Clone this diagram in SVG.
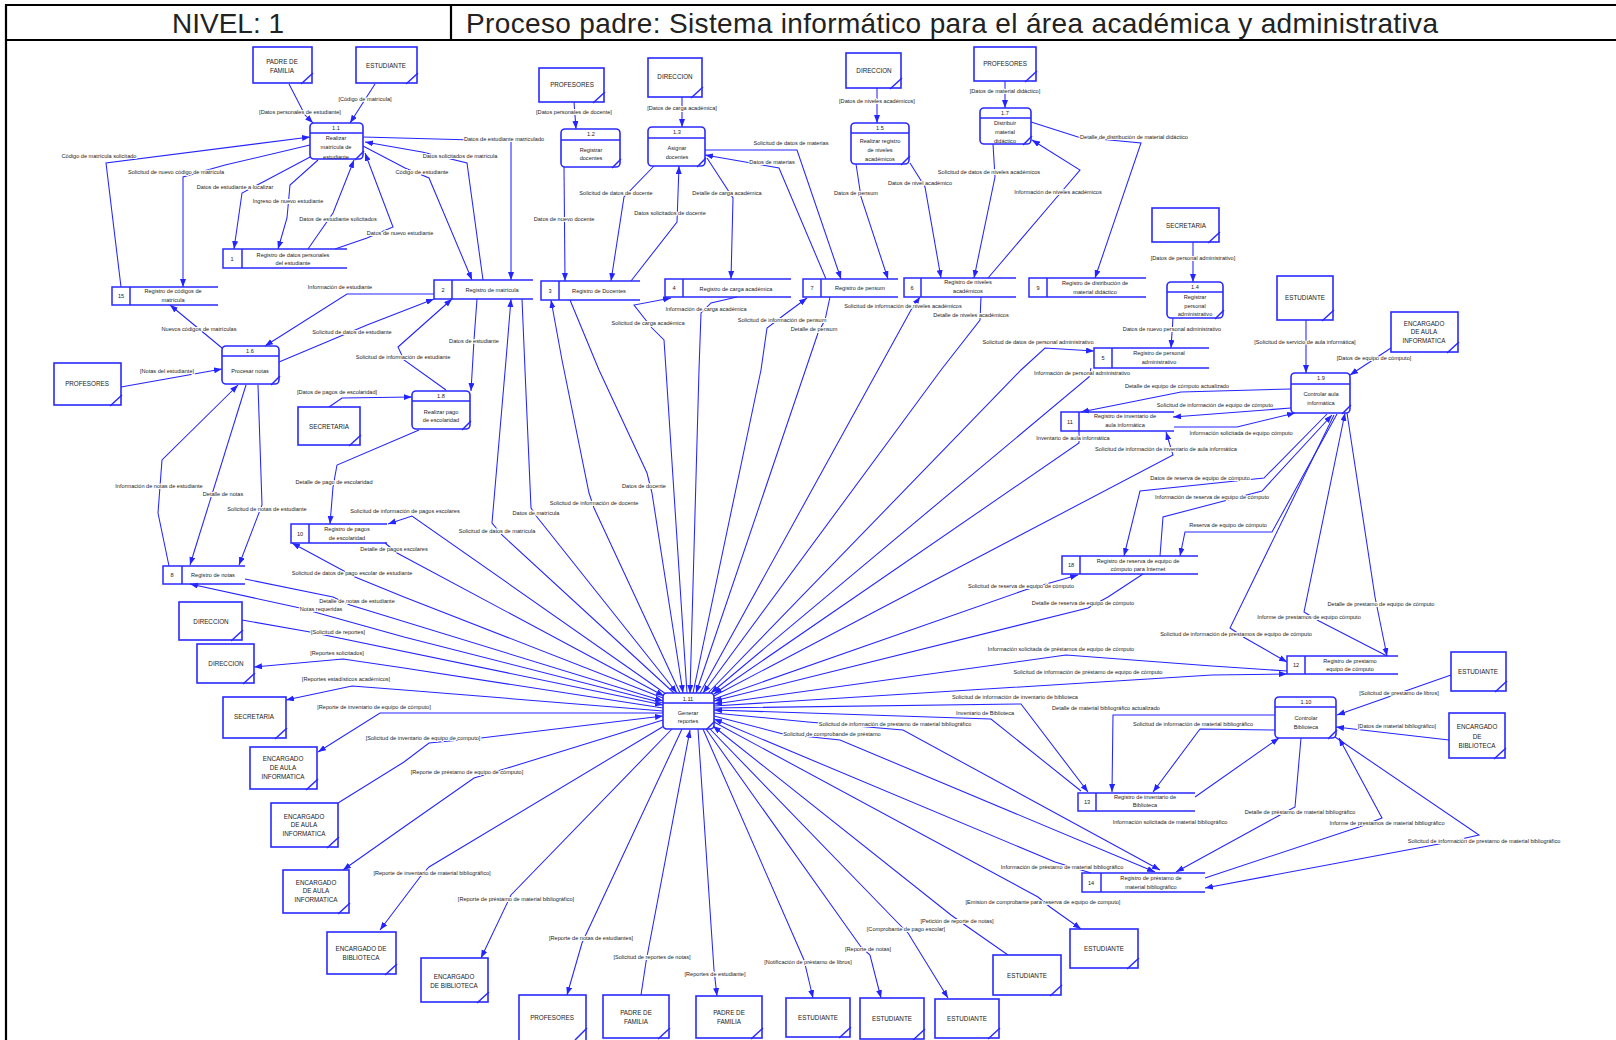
<svg xmlns="http://www.w3.org/2000/svg" width="1616" height="1040" viewBox="0 0 1616 1040">
<defs>
<marker id="a" markerUnits="userSpaceOnUse" markerWidth="9" markerHeight="7" refX="8" refY="3" orient="auto"><path d="M0,0 L8,3 L0,6 z" fill="#2424ff"/></marker>
<style>
text{font-family:"Liberation Sans",Arial,sans-serif;fill:#222}
.t{font-size:5.6px;text-anchor:middle}
.et{font-size:6.3px;text-anchor:middle}
.ent rect,.proc rect{fill:#fff;stroke:#2a2aff;stroke-width:1.6}
.ent path,.proc path,.store path{fill:none;stroke:#2a2aff;stroke-width:1.5}
#lines path{fill:none;stroke:#2424ff;stroke-width:1.05;marker-end:url(#a)}
#labels text{font-size:5.6px;text-anchor:middle;stroke:#fff;stroke-width:2.2;stroke-linejoin:round;paint-order:stroke}
</style>
</defs>
<rect width="1616" height="1040" fill="#fff"/>
<g id="header">
<path d="M6,1042 V5 H1620 M6,40 H1620 M451,5 V40" fill="none" stroke="#000" stroke-width="2.2"/>
<text x="228" y="33" font-size="28" text-anchor="middle" fill="#000">NIVEL: 1</text>
<text x="466" y="33" font-size="28" fill="#000" textLength="972" lengthAdjust="spacing">Proceso padre: Sistema informático para el área académica y administrativa</text>
</g>
<g id="connectors">
<g id="lines">
<path d="M289,84 L305,115 L313,123"/>
<path d="M375,84 L350,123"/>
<path d="M121,287 L106,163 L310,137"/>
<path d="M310,145 L225,165 L183,177 L183,287"/>
<path d="M312,156 L263,182 L242,193 L234,249"/>
<path d="M318,160 L290,185 L287,218 L278,249"/>
<path d="M308,249 L333,213 L354,160"/>
<path d="M335,249 L367,238 L393,227 L365,153"/>
<path d="M363,146 L405,168 L429,178 L472,280"/>
<path d="M483,280 L467,163 L422,152 L365,142"/>
<path d="M363,137 L511,141 L511,280"/>
<path d="M222,348 L193,324 L170,305"/>
<path d="M434,294 L347,294 L265,346"/>
<path d="M279,362 L367,325 L434,299"/>
<path d="M446,390 L404,360 L398,347 L452,299"/>
<path d="M477,299 L474,340 L471,391"/>
<path d="M329,407 L342,398 L412,397"/>
<path d="M419,430 L337,465 L333,487 L330,524"/>
<path d="M666,694 L412,516 L388,524"/>
<path d="M385,543 L397,553 L664,696"/>
<path d="M663,698 L404,597 L355,577 L292,543"/>
<path d="M245,579 L333,597 L350,605 L663,701"/>
<path d="M663,703 L404,637 L300,608 L190,584"/>
<path d="M242,620 L310,632 L663,705"/>
<path d="M663,708 L404,668 L343,659 L254,667"/>
<path d="M663,711 L404,690 L352,686 L286,700"/>
<path d="M663,713 L380,713 L318,752"/>
<path d="M338,803 L404,762 L429,743 L481,738 L663,716"/>
<path d="M663,720 L511,767 L474,778 L404,827 L343,870"/>
<path d="M664,726 L429,867 L420,877 L380,930"/>
<path d="M672,729 L511,895 L481,958"/>
<path d="M682,729 L582,943 L567,995"/>
<path d="M641,995 L646,962 L690,730"/>
<path d="M698,729 L714,970 L717,996"/>
<path d="M703,729 L804,960 L813,998"/>
<path d="M706,729 L861,947 L870,955 L881,998"/>
<path d="M710,729 L898,923 L908,933 L948,998"/>
<path d="M1008,955 L965,925 L951,915 L713,726"/>
<path d="M714,722 L1038,897 L1050,907 L1081,929"/>
<path d="M1091,873 L1055,862 L714,719"/>
<path d="M714,716 L783,734 L840,740 L1155,872"/>
<path d="M714,713 L808,722 L903,730 L1160,870"/>
<path d="M1081,791 L991,719 L714,710"/>
<path d="M714,708 L1021,704 L1088,792"/>
<path d="M1275,715 L1113,715 L1112,792"/>
<path d="M1275,730 L1200,729 L1153,792"/>
<path d="M1195,797 L1279,738"/>
<path d="M1301,738 L1295,807 L1280,815 L1176,872"/>
<path d="M1205,878 L1359,827 L1382,818 L1339,738"/>
<path d="M1335,737 L1479,835 L1439,844 L1205,888"/>
<path d="M1451,675 L1337,715"/>
<path d="M1449,740 L1336,727"/>
<path d="M1306,320 L1306,373"/>
<path d="M1391,348 L1350,375"/>
<path d="M1291,389 L1181,392 L1081,412"/>
<path d="M1291,408 L1173,417"/>
<path d="M1174,427 L1237,427 L1295,413"/>
<path d="M1079,431 L1079,443 L714,694"/>
<path d="M714,696 L1173,455 L1166,432"/>
<path d="M1091,368 L1089,377 L711,693"/>
<path d="M708,693 L1021,370 L1045,348 L1094,351"/>
<path d="M1173,318 L1171,348"/>
<path d="M1193,242 L1193,282"/>
<path d="M1327,414 L1264,478 L1140,491 L1124,556"/>
<path d="M1160,556 L1163,517 L1262,491 L1332,415"/>
<path d="M1337,414 L1272,532 L1185,532 L1180,556"/>
<path d="M714,699 L1025,590 L1078,575"/>
<path d="M1143,574 L1108,597 L1088,608 L714,701"/>
<path d="M1334,415 L1230,628 L1245,638 L1287,662"/>
<path d="M1387,656 L1319,621 L1304,612 L1345,413"/>
<path d="M1347,413 L1375,597 L1387,656"/>
<path d="M1287,671 L1212,666 L1066,655 L714,704"/>
<path d="M714,706 L1212,675 L1287,674"/>
<path d="M574,102 L576,129"/>
<path d="M682,97 L682,127"/>
<path d="M564,167 L565,281"/>
<path d="M654,166 L624,197 L611,281"/>
<path d="M631,281 L677,222 L679,166"/>
<path d="M707,158 L733,198 L731,279"/>
<path d="M705,150 L797,150 L841,279"/>
<path d="M826,279 L779,168 L751,163 L705,155"/>
<path d="M877,88 L877,123"/>
<path d="M856,164 L861,197 L888,279"/>
<path d="M910,163 L925,187 L941,278"/>
<path d="M993,144 L995,177 L974,278"/>
<path d="M988,278 L1057,197 L1080,170 L1032,140"/>
<path d="M1031,122 L1078,137 L1141,143 L1095,278"/>
<path d="M1005,81 L1005,108"/>
<path d="M674,693 L502,535 L492,523 L506,360 L511,299"/>
<path d="M522,299 L525,370 L531,508 L537,517 L677,693"/>
<path d="M680,693 L594,508 L589,493 L562,360 L551,300"/>
<path d="M570,300 L599,370 L647,473 L652,493 L683,693"/>
<path d="M687,693 L666,370 L664,340 L652,328 L634,305 L671,298"/>
<path d="M737,297 L711,303 L701,313 L699,370 L690,693"/>
<path d="M693,693 L761,370 L767,328 L784,315 L807,298"/>
<path d="M830,297 L825,320 L818,333 L696,693"/>
<path d="M700,693 L878,370 L911,310 L920,297"/>
<path d="M981,297 L980,320 L941,370 L703,693"/>
<path d="M121,387 L222,369"/>
<path d="M169,566 L158,513 L162,460 L238,385"/>
<path d="M246,385 L190,565"/>
<path d="M258,385 L262,505 L239,565"/>
</g>
<g id="labels">
<text x="300" y="114">[Datos personales de estudiante]</text>
<text x="365" y="101">[Código de matrícula]</text>
<text x="99" y="158">Código de matrícula solicitado</text>
<text x="176" y="174">Solicitud de nuevo código de matrícula</text>
<text x="235" y="189">Datos de estudiante a localizar</text>
<text x="288" y="203">Ingreso de nuevo estudiante</text>
<text x="338" y="221">Datos de estudiante solicitados</text>
<text x="400" y="235">Datos de nuevo estudiante</text>
<text x="422" y="174">Código de estudiante</text>
<text x="460" y="158">Datos solicitados de matrícula</text>
<text x="504" y="141">Datos de estudiante matriculado</text>
<text x="199" y="331">Nuevos códigos de matrículas</text>
<text x="340" y="289">Información de estudiante</text>
<text x="352" y="334">Solicitud de datos de estudiante</text>
<text x="403" y="359">Solicitud de información de estudiante</text>
<text x="474" y="343">Datos de estudiante</text>
<text x="337" y="394">[Datos de pagos de escolaridad]</text>
<text x="334" y="484">Detalle de pago de escolaridad</text>
<text x="405" y="513">Solicitud de información de pagos escolares</text>
<text x="394" y="551">Detalle de pagos escolares</text>
<text x="352" y="575">Solicitud de datos de pago escolar de estudiante</text>
<text x="357" y="603">Detalle de notas de estudiante</text>
<text x="321" y="611">Notas requeridas</text>
<text x="338" y="634">[Solicitud de reportes]</text>
<text x="337" y="655">[Reportes solicitados]</text>
<text x="346" y="681">[Reportes estadísticos académicos]</text>
<text x="374" y="709">[Reporte de inventario de equipo de cómputo]</text>
<text x="423" y="740">[Solicitud de inventario de equipo de computo]</text>
<text x="467" y="774">[Reporte de préstamo de equipo de cómputo]</text>
<text x="432" y="875">[Reporte de inventario de material bibliográfico]</text>
<text x="516" y="901">[Reporte de préstamo de material bibliográfico]</text>
<text x="591" y="940">[Reporte de notas de estudiantes]</text>
<text x="652" y="959">[Solicitud de reportes de notas]</text>
<text x="715" y="976">[Reportes de estudiante]</text>
<text x="808" y="964">[Notificación de préstamo de libros]</text>
<text x="868" y="951">[Reporte de notas]</text>
<text x="906" y="931">[Comprobante de pago escolar]</text>
<text x="957" y="923">[Petición de reporte de notas]</text>
<text x="1043" y="904">[Emision de comprobante para reserva de equipo de computo]</text>
<text x="1062" y="869">Información de préstamo de material bibliográfico</text>
<text x="832" y="736">Solicitud de comprobande de préstamo</text>
<text x="895" y="726">Solicitud de información de prestamo de material bibliográfico</text>
<text x="985" y="715">Inventario de Biblioteca</text>
<text x="1015" y="699">Solicitud de información de inventario de biblioteca</text>
<text x="1106" y="710">Detalle de material bibliográfico actualizado</text>
<text x="1193" y="726">Solicitud de información de material bibliográfico</text>
<text x="1170" y="824">Información solicitada de material bibliográfico</text>
<text x="1300" y="814">Detalle de préstamo de material bibliográfico</text>
<text x="1387" y="825">Informe de prestamos de material bibliográfico</text>
<text x="1484" y="843">Solicitud de información de prestamo de material bibliográfico</text>
<text x="1399" y="695">[Solicitud de prestamo de libros]</text>
<text x="1397" y="728">[Datos de material bibliográfico]</text>
<text x="1305" y="344">[Solicitud de servicio de aula informática]</text>
<text x="1374" y="360">[Datos de equipo de cómputo]</text>
<text x="1177" y="388">Detalle de equipo de cómputo actualizado</text>
<text x="1215" y="407">Solicitud de información de equipo de cómputo</text>
<text x="1241" y="435">Información solicitada de equipo cómputo</text>
<text x="1073" y="440">Inventario de aula informática</text>
<text x="1166" y="451">Solicitud de información de inventario de aula informática</text>
<text x="1082" y="375">Información de personal administrativo</text>
<text x="1038" y="344">Solicitud de datos de personal administrativo</text>
<text x="1172" y="331">Datos de nuevo personal administrativo</text>
<text x="1193" y="260">[Datos de personal administrativo]</text>
<text x="1200" y="480">Datos de reserva de equipo de cómputo</text>
<text x="1212" y="499">Información de reserva de equipo de cómputo</text>
<text x="1228" y="527">Reserva de equipo de cómputo</text>
<text x="1021" y="588">Solicitud de reserva de equipo de cómputo</text>
<text x="1083" y="605">Detalle de reserva de equipo de cómputo</text>
<text x="1236" y="636">Solicitud de información de prestamos de equipo de cómputo</text>
<text x="1309" y="619">Informe de prestamos de equipo cómputo</text>
<text x="1381" y="606">Detalle de prestamo de equipo de cómputo</text>
<text x="1061" y="651">Información solicitada de préstamos de equipo de cómputo</text>
<text x="1088" y="674">Solicitud de información de préstamo de equipo de cómputo</text>
<text x="574" y="114">[Datos personales de docente]</text>
<text x="682" y="110">[Datos de carga académica]</text>
<text x="564" y="221">Datos de nuevo docente</text>
<text x="616" y="195">Solicitud de datos de docente</text>
<text x="670" y="215">Datos solicitados de docente</text>
<text x="727" y="195">Detalle de carga académica</text>
<text x="791" y="145">Solicitud de datos de materias</text>
<text x="772" y="164">Datos de materias</text>
<text x="877" y="103">[Datos de niveles académicos]</text>
<text x="856" y="195">Datos de pensum</text>
<text x="920" y="185">Datos de nivel académico</text>
<text x="989" y="174">Solicitud de datos de niveles académicos</text>
<text x="1058" y="194">Información de niveles académicos</text>
<text x="1134" y="139">Detalle de distribución de material didáctico</text>
<text x="1005" y="93">[Datos de material didáctico]</text>
<text x="497" y="533">Solicitud de datos de matrícula</text>
<text x="536" y="515">Datos de matrícula</text>
<text x="594" y="505">Solicitud de información de docente</text>
<text x="644" y="488">Datos de docente</text>
<text x="648" y="325">Solicitud de carga académica</text>
<text x="706" y="311">Información de carga académica</text>
<text x="782" y="322">Solicitud de información de pensum</text>
<text x="814" y="331">Detalle de pensum</text>
<text x="903" y="308">Solicitud de información de niveles académicos</text>
<text x="971" y="317">Detalle de niveles académicos</text>
<text x="167" y="373">[Notas del estudiante]</text>
<text x="159" y="488">Información de notas de estudiante</text>
<text x="223" y="496">Detalle de notas</text>
<text x="267" y="511">Solicitud de notas de estudiante</text>
</g>
</g>
<g id="entities">
<g id="e1" class="ent"><rect x="253" y="47" width="59" height="36"/><path d="M313,73 L301,84"/><text class="et" x="282" y="64">PADRE DE</text><text class="et" x="282" y="73">FAMILIA</text></g>
<g id="e2" class="ent"><rect x="356" y="47" width="61" height="36"/><path d="M418,73 L406,84"/><text class="et" x="386" y="68">ESTUDIANTE</text></g>
<g id="e3" class="ent"><rect x="539" y="68" width="65" height="34"/><path d="M605,92 L593,103"/><text class="et" x="572" y="87">PROFESORES</text></g>
<g id="e4" class="ent"><rect x="648" y="58" width="54" height="39"/><path d="M703,87 L691,98"/><text class="et" x="675" y="79">DIRECCION</text></g>
<g id="e5" class="ent"><rect x="846" y="53" width="55" height="35"/><path d="M902,78 L890,89"/><text class="et" x="874" y="73">DIRECCION</text></g>
<g id="e6" class="ent"><rect x="974" y="47" width="62" height="34"/><path d="M1037,71 L1025,82"/><text class="et" x="1005" y="66">PROFESORES</text></g>
<g id="e7" class="ent"><rect x="1152" y="208" width="67" height="34"/><path d="M1220,232 L1208,243"/><text class="et" x="1186" y="228">SECRETARIA</text></g>
<g id="e8" class="ent"><rect x="1277" y="276" width="56" height="44"/><path d="M1334,310 L1322,321"/><text class="et" x="1305" y="300">ESTUDIANTE</text></g>
<g id="e9" class="ent"><rect x="1391" y="312" width="67" height="40"/><path d="M1459,342 L1447,353"/><text class="et" x="1424" y="326">ENCARGADO</text><text class="et" x="1424" y="334">DE AULA</text><text class="et" x="1424" y="343">INFORMATICA</text></g>
<g id="e10" class="ent"><rect x="54" y="363" width="67" height="42"/><path d="M122,395 L110,406"/><text class="et" x="87" y="386">PROFESORES</text></g>
<g id="e11" class="ent"><rect x="298" y="407" width="62" height="38"/><path d="M361,435 L349,446"/><text class="et" x="329" y="429">SECRETARIA</text></g>
<g id="e12" class="ent"><rect x="179" y="602" width="63" height="38"/><path d="M243,630 L231,641"/><text class="et" x="211" y="624">DIRECCION</text></g>
<g id="e13" class="ent"><rect x="197" y="644" width="57" height="39"/><path d="M255,673 L243,684"/><text class="et" x="226" y="666">DIRECCION</text></g>
<g id="e14" class="ent"><rect x="223" y="697" width="63" height="41"/><path d="M287,728 L275,739"/><text class="et" x="254" y="719">SECRETARIA</text></g>
<g id="e15" class="ent"><rect x="250" y="747" width="67" height="42"/><path d="M318,779 L306,790"/><text class="et" x="283" y="761">ENCARGADO</text><text class="et" x="283" y="770">DE AULA</text><text class="et" x="283" y="779">INFORMATICA</text></g>
<g id="e16" class="ent"><rect x="271" y="803" width="67" height="44"/><path d="M339,837 L327,848"/><text class="et" x="304" y="819">ENCARGADO</text><text class="et" x="304" y="827">DE AULA</text><text class="et" x="304" y="836">INFORMATICA</text></g>
<g id="e17" class="ent"><rect x="283" y="870" width="66" height="43"/><path d="M350,903 L338,914"/><text class="et" x="316" y="885">ENCARGADO</text><text class="et" x="316" y="893">DE AULA</text><text class="et" x="316" y="902">INFORMATICA</text></g>
<g id="e18" class="ent"><rect x="327" y="932" width="69" height="42"/><path d="M397,964 L385,975"/><text class="et" x="361" y="951">ENCARGADO DE</text><text class="et" x="361" y="960">BIBLIOTECA</text></g>
<g id="e19" class="ent"><rect x="421" y="958" width="67" height="44"/><path d="M489,992 L477,1003"/><text class="et" x="454" y="979">ENCARGADO</text><text class="et" x="454" y="988">DE BIBLIOTECA</text></g>
<g id="e20" class="ent"><rect x="519" y="995" width="67" height="48"/><path d="M587,1028 L575,1040"/><text class="et" x="552" y="1020">PROFESORES</text></g>
<g id="e21" class="ent"><rect x="603" y="995" width="66" height="43"/><path d="M670,1028 L658,1039"/><text class="et" x="636" y="1015">PADRE DE</text><text class="et" x="636" y="1024">FAMILIA</text></g>
<g id="e22" class="ent"><rect x="696" y="996" width="66" height="42"/><path d="M763,1028 L751,1039"/><text class="et" x="729" y="1015">PADRE DE</text><text class="et" x="729" y="1024">FAMILIA</text></g>
<g id="e23" class="ent"><rect x="786" y="998" width="64" height="39"/><path d="M851,1027 L839,1038"/><text class="et" x="818" y="1020">ESTUDIANTE</text></g>
<g id="e24" class="ent"><rect x="860" y="998" width="64" height="41"/><path d="M925,1029 L913,1040"/><text class="et" x="892" y="1021">ESTUDIANTE</text></g>
<g id="e25" class="ent"><rect x="935" y="999" width="64" height="39"/><path d="M1000,1028 L988,1039"/><text class="et" x="967" y="1021">ESTUDIANTE</text></g>
<g id="e26" class="ent"><rect x="993" y="955" width="68" height="40"/><path d="M1062,985 L1050,996"/><text class="et" x="1027" y="978">ESTUDIANTE</text></g>
<g id="e27" class="ent"><rect x="1070" y="929" width="68" height="39"/><path d="M1139,958 L1127,969"/><text class="et" x="1104" y="951">ESTUDIANTE</text></g>
<g id="e28" class="ent"><rect x="1451" y="652" width="55" height="39"/><path d="M1507,681 L1495,692"/><text class="et" x="1478" y="674">ESTUDIANTE</text></g>
<g id="e29" class="ent"><rect x="1449" y="713" width="56" height="45"/><path d="M1506,748 L1494,759"/><text class="et" x="1477" y="729">ENCARGADO</text><text class="et" x="1477" y="739">DE</text><text class="et" x="1477" y="748">BIBLIOTECA</text></g>
</g>
<g id="processes">
<g id="p1_1" class="proc"><rect x="310" y="123" width="53" height="36" rx="4"/><path d="M310,133 H363 M364,151 L355,160"/><text class="t" x="336" y="130">1.1</text><text class="t" x="336" y="140">Realizar</text><text class="t" x="336" y="149">matrícula de</text><text class="t" x="336" y="159">estudiante</text></g>
<g id="p1_2" class="proc"><rect x="561" y="129" width="59" height="38" rx="4"/><path d="M561,140 H620 M621,159 L612,168"/><text class="t" x="591" y="136">1.2</text><text class="t" x="591" y="152">Registrar</text><text class="t" x="591" y="160">docentes</text></g>
<g id="p1_3" class="proc"><rect x="648" y="127" width="57" height="39" rx="4"/><path d="M648,138 H705 M706,158 L697,167"/><text class="t" x="677" y="134">1.3</text><text class="t" x="677" y="150">Asignar</text><text class="t" x="677" y="159">docentes</text></g>
<g id="p1_5" class="proc"><rect x="851" y="123" width="58" height="41" rx="4"/><path d="M851,133 H909 M910,156 L901,165"/><text class="t" x="880" y="130">1.5</text><text class="t" x="880" y="143">Realizar registro</text><text class="t" x="880" y="152">de niveles</text><text class="t" x="880" y="161">académicos</text></g>
<g id="p1_7" class="proc"><rect x="980" y="108" width="51" height="36" rx="4"/><path d="M980,118 H1031 M1032,136 L1023,145"/><text class="t" x="1005" y="115">1.7</text><text class="t" x="1005" y="125">Distribuir</text><text class="t" x="1005" y="134">material</text><text class="t" x="1005" y="143">didáctico</text></g>
<g id="p1_4" class="proc"><rect x="1167" y="282" width="56" height="36" rx="4"/><path d="M1167,292 H1223 M1224,310 L1215,319"/><text class="t" x="1195" y="289">1.4</text><text class="t" x="1195" y="299">Registrar</text><text class="t" x="1195" y="308">personal</text><text class="t" x="1195" y="316">administrativo</text></g>
<g id="p1_6" class="proc"><rect x="222" y="346" width="57" height="38" rx="4"/><path d="M222,356 H279 M280,376 L271,385"/><text class="t" x="250" y="353">1.6</text><text class="t" x="250" y="373">Procesar notas</text></g>
<g id="p1_8" class="proc"><rect x="412" y="391" width="58" height="38" rx="4"/><path d="M412,401 H470 M471,421 L462,430"/><text class="t" x="441" y="398">1.8</text><text class="t" x="441" y="414">Realizar pago</text><text class="t" x="441" y="422">de escolaridad</text></g>
<g id="p1_9" class="proc"><rect x="1291" y="373" width="59" height="40" rx="4"/><path d="M1291,384 H1350 M1351,405 L1342,414"/><text class="t" x="1321" y="380">1.9</text><text class="t" x="1321" y="396">Controlar aula</text><text class="t" x="1321" y="405">informática</text></g>
<g id="p1_10" class="proc"><rect x="1275" y="697" width="61" height="41" rx="4"/><path d="M1275,707 H1336 M1337,730 L1328,739"/><text class="t" x="1306" y="704">1.10</text><text class="t" x="1306" y="720">Controlar</text><text class="t" x="1306" y="729">Biblioteca</text></g>
<g id="p1_11" class="proc"><rect x="663" y="693" width="51" height="36" rx="4"/><path d="M663,703 H714 M715,721 L706,730"/><text class="t" x="688" y="701">1.11</text><text class="t" x="688" y="715">Generar</text><text class="t" x="688" y="723">reportes</text></g>
</g>
<g id="stores">
<g id="s1" class="store"><path d="M347,249 H223 V268 H347 M242,249 V268"/><text class="t" x="232" y="261">1</text><text class="t" x="293" y="257">Registro de datos personales</text><text class="t" x="293" y="265">del estudiante</text></g>
<g id="s2" class="store"><path d="M533,280 H434 V299 H533 M452,280 V299"/><text class="t" x="443" y="292">2</text><text class="t" x="492" y="292">Registro de matrícula</text></g>
<g id="s3" class="store"><path d="M640,281 H541 V300 H640 M559,281 V300"/><text class="t" x="550" y="293">3</text><text class="t" x="599" y="293">Registro de Docentes</text></g>
<g id="s4" class="store"><path d="M791,279 H665 V297 H791 M683,279 V297"/><text class="t" x="674" y="290">4</text><text class="t" x="736" y="291">Registro de carga académica</text></g>
<g id="s5" class="store"><path d="M1209,348 H1094 V368 H1209 M1112,348 V368"/><text class="t" x="1103" y="360">5</text><text class="t" x="1159" y="355">Registro de personal</text><text class="t" x="1159" y="364">administrativo</text></g>
<g id="s6" class="store"><path d="M1016,278 H904 V297 H1016 M921,278 V297"/><text class="t" x="912" y="290">6</text><text class="t" x="968" y="284">Registro de niveles</text><text class="t" x="968" y="293">académicos</text></g>
<g id="s7" class="store"><path d="M898,279 H803 V297 H898 M821,279 V297"/><text class="t" x="812" y="290">7</text><text class="t" x="860" y="290">Registro de pensum</text></g>
<g id="s8" class="store"><path d="M245,566 H163 V584 H245 M182,566 V584"/><text class="t" x="172" y="577">8</text><text class="t" x="213" y="577">Registro de notas</text></g>
<g id="s9" class="store"><path d="M1146,278 H1029 V297 H1146 M1047,278 V297"/><text class="t" x="1038" y="290">9</text><text class="t" x="1095" y="285">Registro de distribución de</text><text class="t" x="1095" y="294">material didáctico</text></g>
<g id="s10" class="store"><path d="M387,524 H291 V543 H387 M309,524 V543"/><text class="t" x="300" y="536">10</text><text class="t" x="347" y="531">Registro de pagos</text><text class="t" x="347" y="540">de escolaridad</text></g>
<g id="s11" class="store"><path d="M1174,412 H1061 V431 H1174 M1079,412 V431"/><text class="t" x="1070" y="424">11</text><text class="t" x="1125" y="418">Registro de inventario de</text><text class="t" x="1125" y="427">aula informática</text></g>
<g id="s12" class="store"><path d="M1398,656 H1287 V674 H1398 M1305,656 V674"/><text class="t" x="1296" y="667">12</text><text class="t" x="1350" y="663">Registro de prestamo</text><text class="t" x="1350" y="671">equipo de cómputo</text></g>
<g id="s13" class="store"><path d="M1195,793 H1078 V811 H1195 M1096,793 V811"/><text class="t" x="1087" y="804">13</text><text class="t" x="1145" y="799">Registro de inventario de</text><text class="t" x="1145" y="807">Biblioteca</text></g>
<g id="s14" class="store"><path d="M1205,873 H1082 V892 H1205 M1101,873 V892"/><text class="t" x="1091" y="885">14</text><text class="t" x="1151" y="880">Registro de préstamo de</text><text class="t" x="1151" y="889">material bibliográfico</text></g>
<g id="s15" class="store"><path d="M218,287 H112 V305 H218 M130,287 V305"/><text class="t" x="121" y="298">15</text><text class="t" x="173" y="293">Registro de códigos de</text><text class="t" x="173" y="302">matrícula</text></g>
<g id="s18" class="store"><path d="M1198,556 H1062 V574 H1198 M1080,556 V574"/><text class="t" x="1071" y="567">18</text><text class="t" x="1138" y="563">Registro de reserva de equipo de</text><text class="t" x="1138" y="571">cómputo para Internet</text></g>
</g>
</svg>
